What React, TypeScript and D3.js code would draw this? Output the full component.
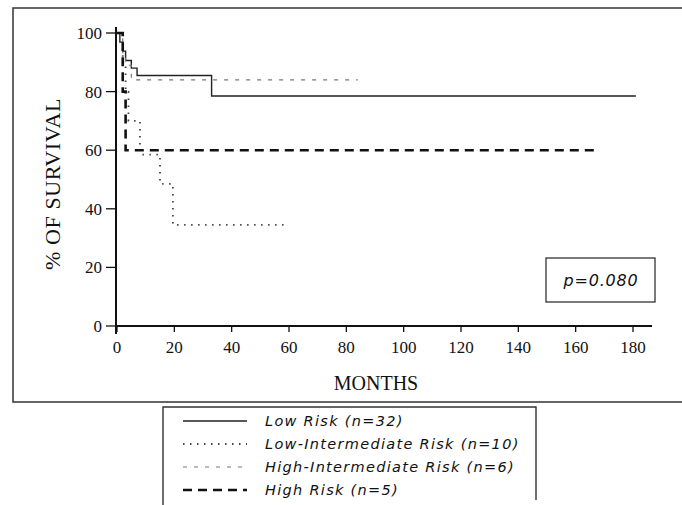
import React from "react";
import * as d3 from "d3";

type Pt = [number, number];

// Kaplan–Meier steps: [month, % surviving] at each change
const lowRisk: Pt[] = [[0, 100], [1, 96.9], [2, 93.8], [3, 90.6], [5, 88], [7, 85.5], [33, 78.5], [181, 78.5]];
const lowIntermediate: Pt[] = [[0, 100], [2, 90], [3, 80], [4, 70], [8, 60], [8.5, 58.5], [15, 48.5], [19.5, 34.5], [60, 34.5]];
const highIntermediate: Pt[] = [[0, 100], [2, 93], [3, 89], [5, 84], [84, 84]];
const highRisk: Pt[] = [[0, 100], [2, 80], [3, 60], [167, 60]];

const xTicks = [0, 20, 40, 60, 80, 100, 120, 140, 160, 180];
const yTicks = [0, 20, 40, 60, 80, 100];

const legendLabels = [
  "Low Risk (n=32)",
  "Low-Intermediate Risk (n=10)",
  "High-Intermediate Risk (n=6)",
  "High Risk (n=5)",
];

const seriesList = [lowRisk, lowIntermediate, highIntermediate, highRisk];

const styles = [
  { stroke: "#222", width: 1.4, dash: "none" },
  { stroke: "#444", width: 1.8, dash: "1.5,5.5" },
  { stroke: "#777", width: 1.2, dash: "4,7" },
  { stroke: "#111", width: 2.6, dash: "9,6" },
];

const x = d3.scaleLinear().domain([0, 180]).range([117, 633]);
const y = d3.scaleLinear().domain([0, 100]).range([326, 33]);

const line = d3
  .line<Pt>()
  .x((d) => x(d[0]))
  .y((d) => y(d[1]))
  .curve(d3.curveStepAfter);

const serif = "'Liberation Serif', 'DejaVu Serif', serif";
const sans = "'DejaVu Sans', sans-serif";

export default function App() {
  return (
    <svg width={682} height={505} style={{ position: "absolute", left: 0, top: 0, background: "#fff" }}>
      {/* outer frame */}
      <path d="M682,8 H13 V402 H682" fill="none" stroke="#333" strokeWidth={1.5} />

      {/* axes */}
      <line x1={116} x2={116} y1={27} y2={334} stroke="#111" strokeWidth={2} />
      <line x1={116} x2={652} y1={326} y2={326} stroke="#111" strokeWidth={2} />

      {yTicks.map((t) => (
        <g key={"y" + t}>
          <line x1={106} x2={116} y1={y(t)} y2={y(t)} stroke="#111" strokeWidth={1.3} />
          <text x={102} y={y(t)} dy="0.35em" textAnchor="end" fontFamily={serif} fontSize={17} fill="#111">
            {t}
          </text>
        </g>
      ))}

      {xTicks.map((t) => (
        <g key={"x" + t}>
          <line x1={x(t)} x2={x(t)} y1={326} y2={332} stroke="#111" strokeWidth={1.3} />
          <text x={x(t)} y={353} textAnchor="middle" fontFamily={serif} fontSize={17} fill="#111">
            {t}
          </text>
        </g>
      ))}

      <text
        transform="translate(60,184) rotate(-90)"
        textAnchor="middle"
        fontFamily={serif}
        fontSize={22}
        letterSpacing={0.6}
        fill="#111"
      >
        % OF SURVIVAL
      </text>
      <text x={376} y={390} textAnchor="middle" fontFamily={serif} fontSize={20} fill="#111">
        MONTHS
      </text>

      {/* survival curves */}
      {seriesList.map((s, i) => (
        <path
          key={"s" + i}
          d={line(s) ?? ""}
          fill="none"
          stroke={styles[i].stroke}
          strokeWidth={styles[i].width}
          strokeDasharray={styles[i].dash}
        />
      ))}

      {/* p-value box */}
      <rect x={546} y={258} width={109} height={44} fill="#fff" stroke="#333" strokeWidth={1.3} />
      <text x={601} y={286} textAnchor="middle" fontFamily={sans} fontStyle="italic" fontSize={16} letterSpacing={0.8} fill="#111">
        p=0.080
      </text>

      {/* legend */}
      <path d="M163,505 V407 H536 V500" fill="none" stroke="#333" strokeWidth={1.4} />
      {legendLabels.map((lab, i) => {
        const ly = 421 + i * 23;
        return (
          <g key={"l" + i}>
            <line
              x1={183}
              x2={247}
              y1={ly}
              y2={ly}
              stroke={styles[i].stroke}
              strokeWidth={styles[i].width}
              strokeDasharray={styles[i].dash}
            />
            <text x={265} y={ly} dy="0.35em" fontFamily={sans} fontStyle="italic" fontSize={14.5} letterSpacing={1.3} fill="#111">
              {lab}
            </text>
          </g>
        );
      })}
    </svg>
  );
}
